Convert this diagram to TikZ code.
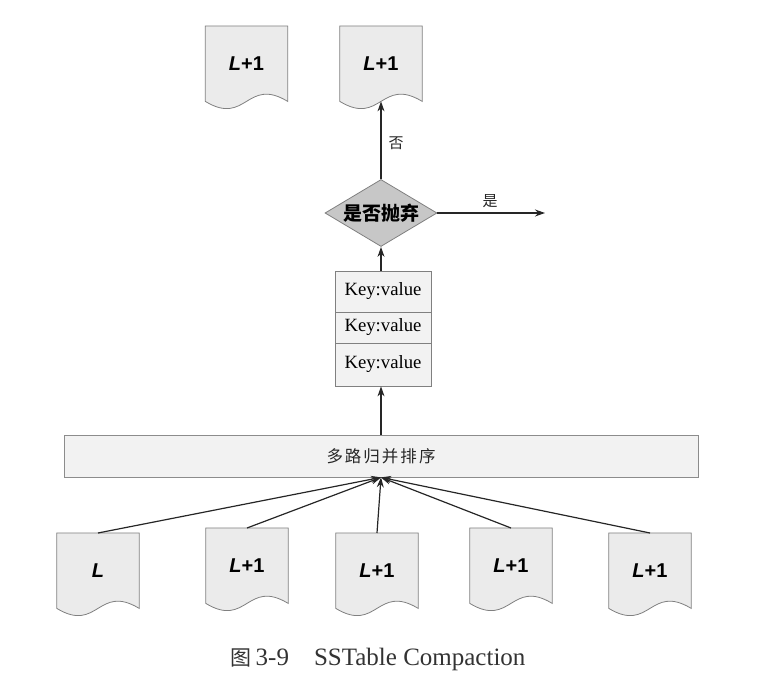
\documentclass[tikz,border=0pt]{standalone}
\usepackage{fontspec}
\setmainfont{Liberation Serif}
\newfontfamily\cjk{Noto Sans CJK SC}
\newfontfamily\lsans{Liberation Sans}
\usetikzlibrary{shapes.geometric,arrows.meta,backgrounds,calc}
\newcommand\docu[4]{%
  \node[docbox, anchor=north] (#1) at (#2,#3) {#4};
  \begin{scope}[on background layer]
    \draw[docline] (#1.north west) -- (#1.north east) -- (#1.south east)
      .. controls ($(#1.south)+(0,-25)$) and ($(#1.south)+(0,25)$) .. (#1.south west) -- cycle;
  \end{scope}
}
\tikzset{
  docbox/.style={minimum width=82pt, minimum height=75pt, inner sep=0pt,
    font=\lsans\bfseries\fontsize{20}{22}\selectfont},
  docline/.style={draw=black!50, fill=black!8, line width=0.8pt},
  arr/.style={-{Stealth[length=10pt,width=7pt]}, line width=1.2pt, draw=black!85},
  kvbox/.style={draw=black!50, fill=black!5, line width=0.8pt, minimum width=96pt,
    inner sep=0pt, font=\fontsize{18.7}{20}\selectfont},
  lbl/.style={font=\cjk\fontsize{15}{16}\selectfont, text=black!85},
}
\begin{document}
\begin{tikzpicture}[x=1pt,y=-1pt]
\useasboundingbox (0,0) rectangle (769,684);
% top documents
\docu{tl}{246.5}{26}{\textit{L}+1}
\docu{tr}{381}{26}{\textit{L}+1}
% diamond
\node[diamond, draw=black!50, fill=black!22, line width=0.8pt, aspect=1.67,
  minimum width=112pt, minimum height=67pt, inner sep=0pt,
  font=\cjk\bfseries\fontsize{19}{20}\selectfont] (dec) at (381,213) {是否抛弃};
\coordinate (out) at (545,213);
% key value stack
\node[kvbox, minimum height=41pt] (kv1) at (383,291.5) {Key:value};
\node[kvbox, minimum height=31pt] (kv2) at (383,327.5) {Key:value};
\node[kvbox, minimum height=43pt] (kv3) at (383,364.5) {Key:value};
% merge bar
\node[draw=black!45, fill=black!5, line width=0.8pt, minimum width=634pt, minimum height=42pt,
  inner sep=0pt, font=\cjk\fontsize{16.5}{18}\selectfont, text=black!85] (bar) at (381,456)
  {多\kern2pt 路\kern2pt 归\kern2pt 并\kern2pt 排\kern2pt 序};
% bottom documents
\docu{d1}{98}{533}{\textit{L}}
\docu{d2}{247}{528}{\textit{L}+1}
\docu{d3}{377}{533}{\textit{L}+1}
\docu{d4}{511}{528}{\textit{L}+1}
\docu{d5}{650}{533}{\textit{L}+1}
% connectors
\foreach \d in {d1,d2,d3,d4,d5} \draw[arr] (\d.north) -- (bar.south);
\draw[arr] (bar.north) -- (bar.north |- kv3.south);
\draw[arr] (dec.south |- kv1.north) -- (dec.south);
\draw[arr] (dec.north) -- (tr.south);
\draw[arr] (dec.east) -- (out);
\node[lbl] (no) at (396,143) {否};
\node[lbl] (yes) at (490,201) {是};
% caption
\node[font=\fontsize{25}{27}\selectfont, text=black!80] (cap) at (378,659)
  {{\cjk\fontsize{21}{22}\selectfont 图}\,3-9\quad SSTable Compaction};
\end{tikzpicture}
\end{document}
